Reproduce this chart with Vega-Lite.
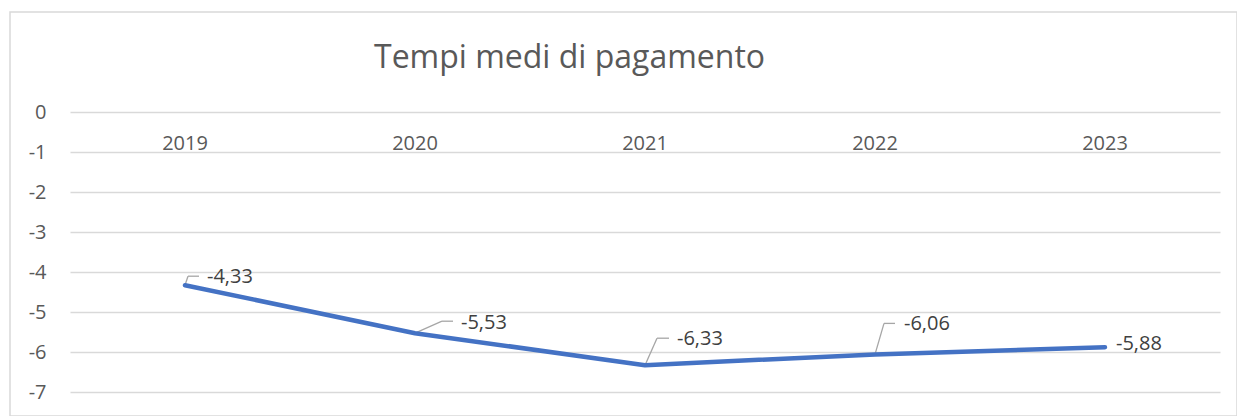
{
  "$schema": "https://vega.github.io/schema/vega-lite/v6.json",
  "autosize": "none",
  "padding": {"left": 10, "top": 12, "right": 0, "bottom": 0},
  "width": 1227,
  "height": 404,
  "background": "white",
  "config": {
    "view": {"stroke": "#d9d9d9", "strokeWidth": 1.5},
    "font": "Open Sans",
    "locale": {"number": {"decimal": ",", "thousands": ".", "grouping": [3], "currency": ["€", ""], "minus": "-"}}
  },
  "title": {
    "text": "Tempi medi di pagamento",
    "anchor": "start",
    "frame": "group",
    "orient": "top",
    "dx": 364,
    "dy": 34,
    "offset": -54,
    "baseline": "alphabetic",
    "fontSize": 32,
    "fontWeight": "normal",
    "font": "Open Sans",
    "color": "#595959"
  },
  "data": {
    "values": [
      {"year": "2019", "value": -4.33},
      {"year": "2020", "value": -5.53},
      {"year": "2021", "value": -6.33},
      {"year": "2022", "value": -6.06},
      {"year": "2023", "value": -5.88}
    ]
  },
  "encoding": {
    "x": {
      "field": "year", "type": "nominal", "sort": null,
      "scale": {"type": "band", "range": [60, 1210], "paddingInner": 0, "paddingOuter": 0},
      "axis": {"orient": "bottom", "offset": -304, "title": null, "domain": false, "ticks": false, "grid": false,
               "labelAngle": 0, "labelPadding": 31, "labelBaseline": "middle", "labelFontSize": 20,
               "labelColor": "#595959", "labelFont": "Open Sans"}
    },
    "y": {
      "field": "value", "type": "quantitative",
      "scale": {"domain": [-7, 0], "range": [380, 100], "nice": false, "zero": false},
      "axis": {"orient": "left", "offset": -60, "title": null, "domain": false, "ticks": false,
               "values": [0, -1, -2, -3, -4, -5, -6, -7], "format": "d",
               "grid": true, "gridColor": "#d9d9d9", "gridWidth": 1.5,
               "labelPadding": 24, "labelFontSize": 20, "labelColor": "#595959", "labelFont": "Open Sans"}
    }
  },
  "layer": [
    {"transform": [{"filter": "datum.year == '2019'"}], "mark": {"type": "rule", "color": "#a6a6a6", "strokeWidth": 1.3, "x2Offset": 3, "y2Offset": -9},
     "encoding": {"x2": {"field": "year"}, "y2": {"field": "value"}}},
    {"transform": [{"filter": "datum.year == '2019'"}], "mark": {"type": "rule", "color": "#a6a6a6", "strokeWidth": 1.3, "xOffset": 3, "yOffset": -9, "x2Offset": 14, "y2Offset": -9},
     "encoding": {"x2": {"field": "year"}, "y2": {"field": "value"}}},
    {"transform": [{"filter": "datum.year == '2020'"}], "mark": {"type": "rule", "color": "#a6a6a6", "strokeWidth": 1.3, "x2Offset": 27, "y2Offset": -12},
     "encoding": {"x2": {"field": "year"}, "y2": {"field": "value"}}},
    {"transform": [{"filter": "datum.year == '2020'"}], "mark": {"type": "rule", "color": "#a6a6a6", "strokeWidth": 1.3, "xOffset": 27, "yOffset": -12, "x2Offset": 38, "y2Offset": -12},
     "encoding": {"x2": {"field": "year"}, "y2": {"field": "value"}}},
    {"transform": [{"filter": "datum.year == '2021'"}], "mark": {"type": "rule", "color": "#a6a6a6", "strokeWidth": 1.3, "x2Offset": 12, "y2Offset": -27},
     "encoding": {"x2": {"field": "year"}, "y2": {"field": "value"}}},
    {"transform": [{"filter": "datum.year == '2021'"}], "mark": {"type": "rule", "color": "#a6a6a6", "strokeWidth": 1.3, "xOffset": 12, "yOffset": -27, "x2Offset": 24, "y2Offset": -27},
     "encoding": {"x2": {"field": "year"}, "y2": {"field": "value"}}},
    {"transform": [{"filter": "datum.year == '2022'"}], "mark": {"type": "rule", "color": "#a6a6a6", "strokeWidth": 1.3, "x2Offset": 9, "y2Offset": -31},
     "encoding": {"x2": {"field": "year"}, "y2": {"field": "value"}}},
    {"transform": [{"filter": "datum.year == '2022'"}], "mark": {"type": "rule", "color": "#a6a6a6", "strokeWidth": 1.3, "xOffset": 9, "yOffset": -31, "x2Offset": 20, "y2Offset": -31},
     "encoding": {"x2": {"field": "year"}, "y2": {"field": "value"}}},
    {"mark": {"type": "line", "color": "#4472C4", "strokeWidth": 4.5, "strokeCap": "round", "strokeJoin": "round"}},
    {"transform": [{"filter": "datum.year == '2019'"}], "mark": {"type": "text", "align": "left", "baseline": "middle", "dx": 22, "dy": -8, "fontSize": 20, "color": "#404040", "font": "Open Sans"},
     "encoding": {"text": {"field": "value", "type": "quantitative", "format": ".2f"}}},
    {"transform": [{"filter": "datum.year == '2020'"}], "mark": {"type": "text", "align": "left", "baseline": "middle", "dx": 46, "dy": -10, "fontSize": 20, "color": "#404040", "font": "Open Sans"},
     "encoding": {"text": {"field": "value", "type": "quantitative", "format": ".2f"}}},
    {"transform": [{"filter": "datum.year == '2021'"}], "mark": {"type": "text", "align": "left", "baseline": "middle", "dx": 32, "dy": -26, "fontSize": 20, "color": "#404040", "font": "Open Sans"},
     "encoding": {"text": {"field": "value", "type": "quantitative", "format": ".2f"}}},
    {"transform": [{"filter": "datum.year == '2022'"}], "mark": {"type": "text", "align": "left", "baseline": "middle", "dx": 29, "dy": -30, "fontSize": 20, "color": "#404040", "font": "Open Sans"},
     "encoding": {"text": {"field": "value", "type": "quantitative", "format": ".2f"}}},
    {"transform": [{"filter": "datum.year == '2023'"}], "mark": {"type": "text", "align": "left", "baseline": "middle", "dx": 11, "dy": -3, "fontSize": 20, "color": "#404040", "font": "Open Sans"},
     "encoding": {"text": {"field": "value", "type": "quantitative", "format": ".2f"}}}
  ]
}
